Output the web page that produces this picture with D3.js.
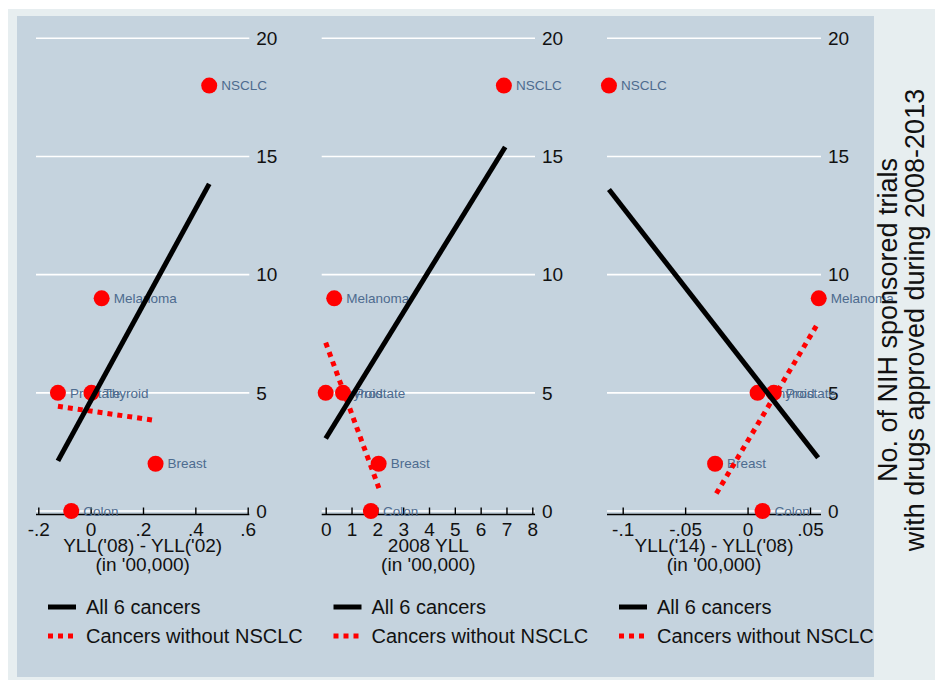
<!DOCTYPE html>
<html><head><meta charset="utf-8">
<script src="https://cdn.jsdelivr.net/npm/d3@7/dist/d3.min.js"></script>
<style>
body{margin:0;background:#fff;}
svg{display:block;}
text{font-family:Arial,"Liberation Sans",sans-serif;}
</style>
</head><body>
<svg id="chart" width="935" height="680"></svg>
<script>
// ---------------- data ----------------
const cancers = ["NSCLC", "Melanoma", "Prostate", "Thyroid", "Breast", "Colon"];
const trials  = [18, 9, 5, 5, 2, 0];
const yllChange0208 = [0.453, 0.042, -0.125, 0.003, 0.248, -0.074];
const yll2008       = [6.9, 0.33, 0.67, 0.0, 2.05, 1.75];
const yllChange0814 = [-0.111, 0.057, 0.021, 0.008, -0.026, 0.012];

// fitted-line end points (x, y)
const fitAllX = [[-0.125, 0.453], [0.0, 6.95], [-0.111, 0.0565]];
const fitAllY = [[2.12, 13.84], [3.07, 15.4], [13.6, 2.25]];
const fitNoX  = [[-0.125, 0.248], [0.0, 2.06], [-0.025, 0.057]];
const fitNoY  = [[4.43, 3.83], [7.12, 0.97], [0.74, 8.0]];

const xTickVals = [[-0.2, 0, 0.2, 0.4, 0.6], [0,1,2,3,4,5,6,7,8], [-0.1, -0.05, 0, 0.05]];
const xTickText = [["-.2","0",".2",".4",".6"], ["0","1","2","3","4","5","6","7","8"], ["-.1","-.05","0",".05"]];
const xDomains  = [[-0.2, 0.6], [0, 8], [-0.1, 0.05]];
const xTitles1  = ["YLL('08) - YLL('02)", "2008 YLL", "YLL('14) - YLL('08)"];
const xTitles2  = ["(in '00,000)", "(in '00,000)", "(in '00,000)"];
const yTicks    = [0, 5, 10, 15, 20];
const legendLabels = ["All 6 cancers", "Cancers without NSCLC"];
const yTitle = ["No. of NIH sponsored trials", "with drugs approved during 2008-2013"];
const panelX = [yllChange0208, yll2008, yllChange0814];

// ---------------- layout ----------------
const svg = d3.select("#chart");
svg.append("rect").attr("x", 8).attr("y", 9).attr("width", 927).attr("height", 671).attr("fill", "#e7eef0");
svg.append("rect").attr("x", 17).attr("y", 16).attr("width", 857).attr("height", 661).attr("fill", "#c5d3de");

const y = d3.scaleLinear().domain([0, 20]).range([511, 38.3]);
const plotL = [36, 321.7, 607];
const plotR = [249.3, 535, 821];
const xRanges = [[38.3, 247.7], [325.7, 532.3], [622.7, 810]];
const axisY = 514.5;
const red = "#ff0000";
const labelColor = "#4d6b8f";

for (let p = 0; p < 3; p++) {
  const g = svg.append("g");
  const x = d3.scaleLinear().domain(xDomains[p]).range(xRanges[p]);

  // gridlines
  g.selectAll(".grid").data(yTicks).join("line")
    .attr("x1", plotL[p]).attr("x2", plotR[p])
    .attr("y1", d => y(d)).attr("y2", d => y(d))
    .attr("stroke", "#ffffff").attr("stroke-width", 1.6);

  // right y tick labels
  g.selectAll(".ylab").data(yTicks).join("text")
    .attr("x", plotR[p] + 7).attr("y", d => y(d))
    .attr("dy", "0.36em").attr("font-size", 19).attr("fill", "#111")
    .text(d => d);

  // x axis line
  g.append("line").attr("x1", plotL[p]).attr("x2", plotR[p])
    .attr("y1", axisY).attr("y2", axisY).attr("stroke", "#000").attr("stroke-width", 1.6);

  const axis = d3.axisBottom(x).tickValues(xTickVals[p])
    .tickFormat((d, i) => xTickText[p][i]).tickSizeInner(-7).tickSizeOuter(0).tickPadding(8);
  const ag = g.append("g").attr("transform", `translate(0,${axisY})`).call(axis);
  ag.select(".domain").remove();
  ag.selectAll(".tick line").attr("stroke", "#000").attr("stroke-width", 1.4);
  ag.selectAll(".tick text").attr("font-size", 19).attr("fill", "#111")
    .attr("font-family", "Arial, 'Liberation Sans', sans-serif");

  // x titles
  const cx = (plotL[p] + plotR[p]) / 2;
  g.append("text").attr("x", cx).attr("y", 552).attr("text-anchor", "middle")
    .attr("font-size", 19).attr("fill", "#111").text(xTitles1[p]);
  g.append("text").attr("x", cx).attr("y", 571).attr("text-anchor", "middle")
    .attr("font-size", 19).attr("fill", "#111").text(xTitles2[p]);

  // points
  const pts = cancers.map((c, i) => ({name: c, xv: panelX[p][i], yv: trials[i]}));
  g.selectAll(".lab").data(pts).join("text")
    .attr("x", d => x(d.xv) + 12).attr("y", d => y(d.yv)).attr("dy", "0.35em")
    .attr("font-size", 13.5).attr("fill", labelColor).text(d => d.name);
  g.selectAll(".pt").data(pts).join("circle")
    .attr("cx", d => x(d.xv)).attr("cy", d => y(d.yv)).attr("r", 8).attr("fill", red);

  // fitted lines
  const line = d3.line().x(d => x(d[0])).y(d => y(d[1]));
  g.append("path").attr("d", line(fitNoX[p].map((v, i) => [v, fitNoY[p][i]])))
    .attr("fill", "none").attr("stroke", red).attr("stroke-width", 5).attr("stroke-dasharray", "5,5");
  g.append("path").attr("d", line(fitAllX[p].map((v, i) => [v, fitAllY[p][i]])))
    .attr("fill", "none").attr("stroke", "#000").attr("stroke-width", 5);

  // legend
  const L = [48, 333.5, 619][p];
  g.append("line").attr("x1", L).attr("x2", L + 28).attr("y1", 607).attr("y2", 607)
    .attr("stroke", "#000").attr("stroke-width", 5);
  g.append("line").attr("x1", L).attr("x2", L + 28).attr("y1", 636).attr("y2", 636)
    .attr("stroke", red).attr("stroke-width", 5).attr("stroke-dasharray", "5,5");
  g.append("text").attr("x", L + 38).attr("y", 607).attr("dy", "0.36em")
    .attr("font-size", 20).attr("fill", "#111").text(legendLabels[0]);
  g.append("text").attr("x", L + 38).attr("y", 636).attr("dy", "0.36em")
    .attr("font-size", 20).attr("fill", "#111").text(legendLabels[1]);
}

// right axis title
const tg = svg.append("g").attr("transform", "translate(0,320)");
tg.append("text").attr("transform", "translate(897,0) rotate(-90)").attr("text-anchor", "middle")
  .attr("font-size", 27).attr("fill", "#111").text(yTitle[0]);
tg.append("text").attr("transform", "translate(924,0) rotate(-90)").attr("text-anchor", "middle")
  .attr("font-size", 27).attr("fill", "#111").text(yTitle[1]);
</script>
</body></html>
